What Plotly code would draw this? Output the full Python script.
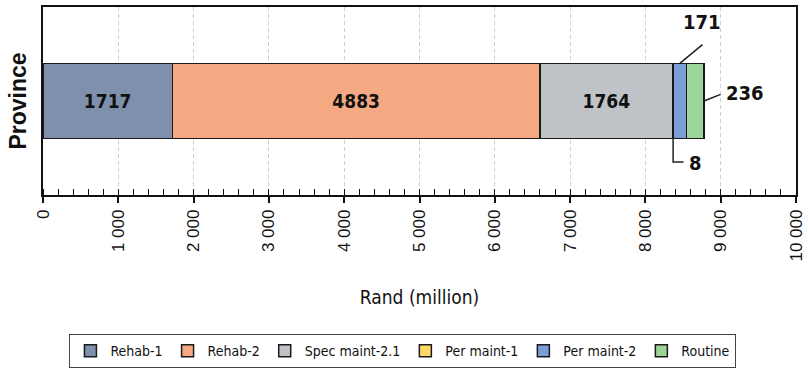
import plotly.graph_objects as go

# Road maintenance budget split for the province (Rand million)
category = ["Province"]
series_names = ["Rehab-1", "Rehab-2", "Spec maint-2.1", "Per maint-1", "Per maint-2", "Routine"]
series_values = [1717, 4883, 1764, 8, 171, 236]
series_colors = ["#7f90ad", "#f5a983", "#bfc2c6", "#ffd966", "#7b9ed6", "#9dd49a"]
x_tick_values = [0, 1000, 2000, 3000, 4000, 5000, 6000, 7000, 8000, 9000, 10000]
x_tick_labels = ["0", "1 000", "2 000", "3 000", "4 000", "5 000", "6 000", "7 000", "8 000", "9 000", "10 000"]

NARROW = "DejaVu Sans Condensed, Liberation Sans Narrow, Arial Narrow, sans-serif"
REG = "Liberation Sans, Arial, sans-serif"

fig = go.Figure()
for name, val, col in zip(series_names, series_values, series_colors):
    big = val >= 1000
    fig.add_trace(go.Bar(
        y=category, x=[val], name=name, orientation="h",
        marker=dict(color=col, line=dict(color="#1a1a1a", width=1.5)),
        width=0.4,
        text=[str(val)] if big else None,
        textposition="inside" if big else "none",
        insidetextanchor="middle",
        textangle=0,
        textfont=dict(family=NARROW, size=19, color="#111", weight="bold"),
        hoverinfo="x+name",
    ))

# cumulative positions used for the callout labels of the thin segments
cum = []
s = 0
for v in series_values:
    s += v
    cum.append(s)

lbl_font = dict(family=NARROW, size=20, color="#111", weight="bold")
line_style = dict(color="#222", width=1.5)

# Per maint-2 callout (above the bar)
pm2_mid = cum[4] - series_values[4] / 2
fig.add_shape(type="line", xref="x", yref="y", x0=pm2_mid, y0=0.2, x1=pm2_mid + 300, y1=0.3, line=line_style)
fig.add_annotation(x=pm2_mid + 290, y=0.42, xref="x", yref="y", text=str(series_values[4]),
                   showarrow=False, font=lbl_font, xanchor="center", yanchor="middle")

# Routine callout (to the right of the bar end)
fig.add_shape(type="line", xref="x", yref="y", x0=cum[5], y0=0.0, x1=cum[5] + 220, y1=0.035, line=line_style)
fig.add_annotation(x=cum[5] + 270, y=0.04, xref="x", yref="y", text=str(series_values[5]),
                   showarrow=False, font=lbl_font, xanchor="left", yanchor="middle")

# Per maint-1 callout (elbow below the bar)
pm1_mid = cum[3] - series_values[3] / 2
fig.add_shape(type="path", xref="x", yref="y",
              path=f"M {pm1_mid},-0.2 L {pm1_mid},-0.324 L {pm1_mid + 140},-0.324",
              line=line_style)
fig.add_annotation(x=pm1_mid + 190, y=-0.33, xref="x", yref="y", text=str(series_values[3]),
                   showarrow=False, font=lbl_font, xanchor="left", yanchor="middle")

fig.update_layout(
    barmode="stack",
    width=808, height=377,
    margin=dict(l=43, r=12, t=7, b=182, autoexpand=False),
    paper_bgcolor="white", plot_bgcolor="white",
    showlegend=True,
    legend=dict(
        orientation="h", x=0.478, xanchor="center", y=-0.74, yanchor="top",
        font=dict(family=NARROW, size=14, color="#111"),
        bordercolor="#444", borderwidth=1, bgcolor="white",
        traceorder="normal", itemwidth=30, tracegroupgap=0,
    ),
    xaxis=dict(
        range=[0, 10000],
        automargin=False,
        tickvals=x_tick_values, ticktext=x_tick_labels,
        tickangle=-90,
        tickfont=dict(family=REG, size=17, color="#111"),
        ticklabeloverflow="allow",
        ticks="outside", ticklen=6, tickcolor="#111", tickwidth=1.5,
        minor=dict(dtick=200, ticks="inside", ticklen=6, tickcolor="#111", tickwidth=1.2, showgrid=False),
        showgrid=True, gridcolor="#d0d0d0", griddash="4px,3px", gridwidth=1,
        showline=True, linecolor="#111", linewidth=1.5, mirror=True,
        zeroline=False,
        title=dict(text="Rand (million)", font=dict(family=NARROW, size=19, color="#111"), standoff=30),
    ),
    yaxis=dict(
        range=[-0.5, 0.5],
        automargin=False,
        showticklabels=False, ticks="",
        showline=True, linecolor="#111", linewidth=1.5, mirror=True,
        showgrid=False, zeroline=False,
        title=dict(text="Province", font=dict(family=REG, size=23, color="#111", weight="bold"), standoff=8),
    ),
)

fig.write_html("out.html")
